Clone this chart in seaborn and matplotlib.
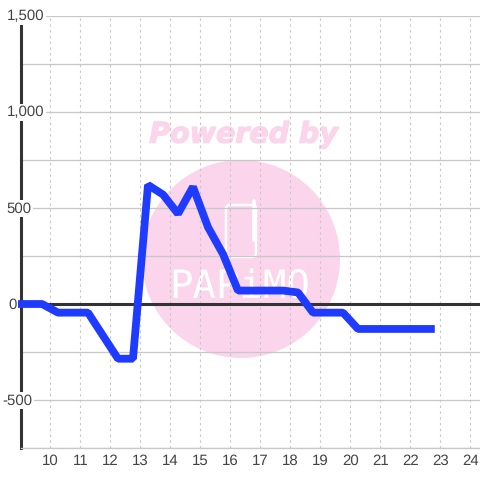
"""Daily balance line with a faint watermark behind the grid."""

import matplotlib.patheffects as pe
import matplotlib.pyplot as plt
import pandas as pd
import seaborn as sns
from matplotlib.patches import Circle, FancyBboxPatch
from matplotlib.transforms import IdentityTransform

HOURS = [9, 9.72, 10.25, 11.25, 12.25, 12.75, 13.25, 13.75, 14.25, 14.75, 15.25, 15.75,
         16.25, 17.75, 18.25, 18.75, 19.75, 20.25, 22.68]
BALANCE = [0, 0, -45, -45, -285, -285, 620, 570, 470, 610, 400, 260,
           70, 70, 60, -45, -45, -130, -130]
X_TICKS = list(range(10, 25))
Y_MAJOR = [-500, 0, 500, 1000, 1500]
Y_LABELS = ["-500", "0", "500", "1,000", "1,500"]
Y_MINOR = [-750, -250, 250, 750, 1250]

PINK = "#fbd5ec"
BLUE = "#1f3bff"
DARK = "#333333"
GRID = "#c8c8c8"
TEXT = "#444444"


def px(y):
    return 480 - y


sns.set_theme(style="white")
plt.rcParams["font.family"] = ["Liberation Sans", "DejaVu Sans"]
plt.rcParams["text.hinting"] = "none"
plt.rcParams["text.hinting_factor"] = 1

fig = plt.figure(figsize=(4.8, 4.8), dpi=100, facecolor="white")
ax = fig.add_axes([20.5 / 480, (480 - 448) / 480, 459.5 / 480, 432 / 480])
ax.set_xlim(9, 24.317)
ax.set_ylim(-750, 1500)

# watermark, placed in pixels because it ignores the data scale
pixels = IdentityTransform()
ax.add_patch(Circle((241, px(259)), 99, color=PINK, lw=0, transform=pixels, zorder=0.1))
ax.add_patch(FancyBboxPatch((226, px(257)), 30, 52, boxstyle="round,pad=0,rounding_size=4",
                            fc="none", ec="white", lw=1.8, transform=pixels, zorder=0.2))
ax.plot([254, 254], [px(240), px(201)], color="white", lw=2.6, transform=pixels, zorder=0.2)
powered = ax.text(242, px(135), "Powered by", transform=pixels, color=PINK, fontsize=20.5,
                  ha="center", va="center", family="DejaVu Sans", weight="bold",
                  style="oblique", zorder=0.2)
powered.set_path_effects([pe.withStroke(linewidth=0.9, foreground=PINK)])
ax.text(240, px(288), "PAPiMO", transform=pixels, color="white", fontsize=28,
        ha="center", va="center", family="DejaVu Sans Mono", zorder=0.2)

ax.set_axisbelow(True)
ax.set_xticks(X_TICKS)
ax.set_yticks(Y_MAJOR + Y_MINOR)
ax.grid(axis="y", color=GRID, lw=0.95, ls="-")
ax.grid(axis="x", color=GRID, lw=0.8, ls=(0, (2.2, 3)))
ax.tick_params(length=0, bottom=False, left=False, labelleft=False, pad=4.5,
               labelsize=10.5, labelcolor=TEXT)

for side in ("top", "right"):
    ax.spines[side].set_visible(False)
ax.spines["bottom"].set_color(GRID)
ax.spines["bottom"].set_linewidth(0.95)
ax.spines["left"].set_color(DARK)
ax.spines["left"].set_linewidth(2.2)

ax.axhline(0, color=DARK, lw=2.2, zorder=1.5)

data = pd.DataFrame({"hour": HOURS, "balance": BALANCE})
sns.lineplot(data=data, x="hour", y="balance", color=BLUE, lw=5.6, ax=ax, zorder=3,
             solid_joinstyle="bevel", solid_capstyle="projecting", clip_on=False,
             errorbar=None, sort=False)
ax.set_xlabel("")
ax.set_ylabel("")

# y labels sit on the axis line with a white plate behind them
for value, label in zip(Y_MAJOR, Y_LABELS):
    offset = {"-500": 2, "0": 8}.get(label, 6.5)
    ax.annotate(label, xy=(0, value), xycoords=ax.get_yaxis_transform(),
                xytext=(offset - 20.5, -0.5), textcoords="offset pixels",
                ha="left", va="center", fontsize=10.5, color=TEXT, zorder=4,
                annotation_clip=False,
                bbox=dict(boxstyle="square,pad=0.12", fc="white", ec="none"))

fig.savefig("out.png", dpi=100)
